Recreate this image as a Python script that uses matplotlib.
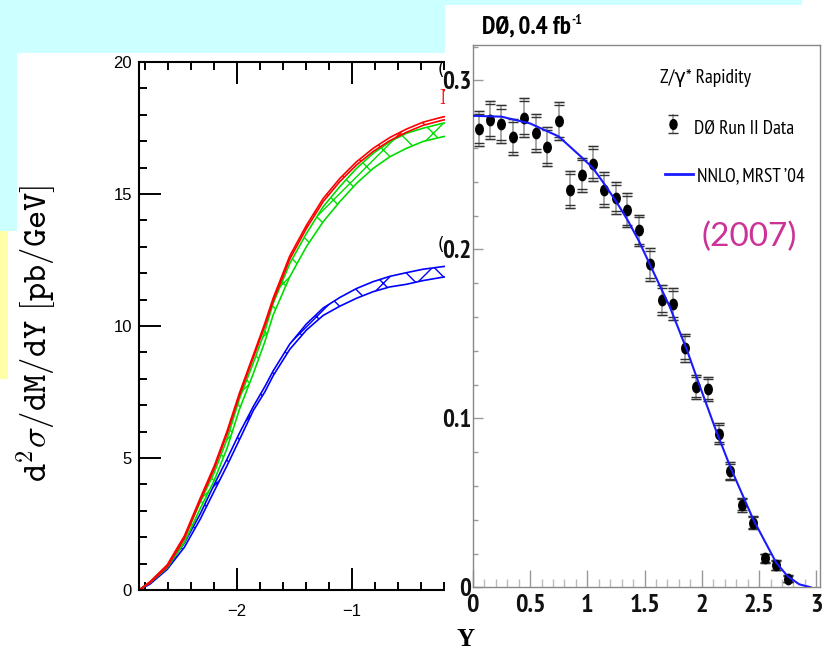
import numpy as np
import matplotlib
matplotlib.use('Agg')
import matplotlib.pyplot as plt
from matplotlib import font_manager
from matplotlib.patches import Rectangle
from matplotlib.path import Path
from matplotlib.markers import MarkerStyle
from matplotlib.transforms import Affine2D
from matplotlib.text import Annotation

# ---- left panel: d2sigma/dM/dY bands (Y < 0 half)
rap_left = [-2.855, -2.76, -2.61, -2.46, -2.32, -2.2, -2.09, -1.98, -1.86, -1.76, -1.687,
            -1.542, -1.397, -1.252, -1.107, -0.962, -0.817, -0.672, -0.527, -0.383, -0.21, 0.0]
red_lo = [0.0, 0.27, 0.87, 1.95, 3.4, 4.6, 5.9, 7.37, 8.8, 10.0, 10.94,
          12.54, 13.7, 14.71, 15.47, 16.1, 16.61, 17.02, 17.34, 17.6, 17.8, 17.92]
red_hi = [0.0, 0.31, 0.95, 2.05, 3.5, 4.7, 6.0, 7.47, 8.9, 10.1, 11.06,
          12.66, 13.82, 14.83, 15.59, 16.22, 16.73, 17.14, 17.46, 17.72, 17.92, 18.04]
green_lo = [0.0, 0.27, 0.84, 1.8, 3.1, 4.15, 5.35, 6.85, 8.2, 9.4, 10.42,
            11.87, 13.01, 13.95, 14.71, 15.4, 15.97, 16.41, 16.73, 16.99, 17.17, 17.3]
green_hi = [0.0, 0.3, 0.9, 1.95, 3.35, 4.45, 5.7, 7.25, 8.6, 9.8, 10.86,
            12.37, 13.51, 14.52, 15.28, 15.97, 16.54, 16.98, 17.3, 17.49, 17.68, 17.8]
blue_lo = [0.0, 0.22, 0.78, 1.62, 2.7, 3.75, 4.7, 5.7, 6.8, 7.5, 8.12,
           9.12, 9.85, 10.4, 10.75, 11.05, 11.3, 11.48, 11.58, 11.72, 11.85, 11.95]
blue_hi = [0.0, 0.27, 0.88, 1.78, 2.9, 4.0, 4.95, 5.95, 6.95, 7.7, 8.3,
           9.32, 10.08, 10.68, 11.08, 11.42, 11.68, 11.88, 12.02, 12.15, 12.25, 12.35]

# ---- right panel: D0 Z/gamma* rapidity
rap_bins = [0.05, 0.15, 0.25, 0.35, 0.45, 0.55, 0.65, 0.75, 0.85, 0.95, 1.05, 1.15, 1.25, 1.35,
            1.45, 1.55, 1.65, 1.75, 1.85, 1.95, 2.05, 2.15, 2.25, 2.35, 2.45, 2.55, 2.65, 2.75]
d0_vals = [0.2714, 0.2763, 0.2741, 0.2665, 0.2779, 0.2688, 0.2608, 0.2759, 0.2353, 0.2442,
           0.2507, 0.2353, 0.2304, 0.2231, 0.2112, 0.1911, 0.1700, 0.1676, 0.1418, 0.1187,
           0.1173, 0.0909, 0.0686, 0.0489, 0.0383, 0.0173, 0.0130, 0.0051]
err_tot = [0.0105, 0.0113, 0.0110, 0.0105, 0.0115, 0.0115, 0.0114, 0.0114, 0.0108, 0.0101,
           0.0103, 0.0103, 0.0094, 0.0101, 0.0094, 0.0096, 0.0088, 0.0095, 0.0083, 0.0071,
           0.0071, 0.0061, 0.0054, 0.0041, 0.0039, 0.0027, 0.0030, 0.0022]
err_stat = [0.0087, 0.0095, 0.0092, 0.0088, 0.0097, 0.0097, 0.0096, 0.0096, 0.0091, 0.0084,
            0.0086, 0.0086, 0.0078, 0.0085, 0.0078, 0.0080, 0.0073, 0.0079, 0.0068, 0.0058,
            0.0058, 0.0050, 0.0045, 0.0034, 0.0032, 0.0022, 0.0025, 0.0018]
nnlo_rap = [0.0, 0.25, 0.5, 0.75, 0.95, 1.05, 1.15, 1.25, 1.35, 1.45, 1.55, 1.72, 1.87,
            1.98, 2.12, 2.25, 2.45, 2.65, 2.75, 2.85, 2.95]
nnlo_val = [0.279, 0.2785, 0.2745, 0.2668, 0.2545, 0.248, 0.2385, 0.2285, 0.2175, 0.205,
            0.1905, 0.166, 0.1404, 0.1195, 0.0935, 0.071, 0.040, 0.0145, 0.0065, 0.0018, 0.0]

# pick a narrow sans that has a bold face (ROOT's Helvetica in the D0 plot is squeezed)
entries = font_manager.fontManager.ttflist

def wnum(w):
    return w if isinstance(w, int) else font_manager.weight_dict.get(w, 400)

bold_names = {f.name for f in entries if wnum(f.weight) >= 600 and f.style == 'normal'}
reg_names = {f.name for f in entries if wnum(f.weight) <= 500 and f.style == 'normal'}
narrow = ['Liberation Sans', 'DejaVu Sans']
for nm in ['Liberation Sans Narrow', 'Arial Narrow', 'PT Sans Narrow', 'Roboto Condensed',
           'Archivo Narrow', 'IBM Plex Sans Condensed', 'Asap Condensed', 'Barlow Semi Condensed',
           'Encode Sans Condensed', 'Sofia Sans Condensed']:
    if nm in bold_names and nm in reg_names:
        narrow = [nm, 'DejaVu Sans']
        break

W, H = 825, 650
fig = plt.figure(figsize=(W / 100, H / 100), dpi=100)
fig.patch.set_facecolor('white')

def box(x0, y0, x1, y1):
    # pixel box (top-left origin) -> figure fraction rect
    return (x0 / W, 1 - y1 / H, (x1 - x0) / W, (y1 - y0) / H)

# slide background bits
for (x0, y0, x1, y1), col in [((0, 0, 802, 5), '#ccffff'), ((0, 0, 445, 53), '#ccffff'),
                              ((0, 53, 17, 231), '#ccffff'), ((0, 231, 8, 379), '#ffffa8')]:
    l, b, w, h = box(x0, y0, x1, y1)
    fig.add_artist(Rectangle((l, b), w, h, transform=fig.transFigure,
                             facecolor=col, edgecolor='none', zorder=0.5))

# ---------------- left plot
axL = fig.add_axes(box(139, 62, 467, 590))
axL.set_zorder(0)
for lo, hi, col in [(blue_lo, blue_hi, '#0000ff'), (green_lo, green_hi, '#00dd00'),
                    (red_lo, red_hi, '#ff0000')]:
    axL.fill_between(rap_left, lo, hi, facecolor='none', edgecolor=col, hatch='x', linewidth=0)
    axL.plot(rap_left, lo, color=col, lw=1.2)
    axL.plot(rap_left, hi, color=col, lw=1.2)
axL.set_xlim(-2.855, 0.0)
axL.set_ylim(0, 20)
axL.set_xticks([-2, -1])
axL.set_yticks([0, 5, 10, 15, 20])
axL.set_xticks(np.arange(-2.8, 0.01, 0.2), minor=True)
axL.set_yticks(np.arange(0, 20.1, 1), minor=True)
axL.tick_params(which='both', direction='in', top=True, bottom=True, left=True, right=False,
                width=1.4, color='black', labelsize=12)
axL.tick_params(which='major', length=16)
axL.tick_params(which='minor', length=6)
axL.tick_params(axis='y', pad=5)
axL.tick_params(axis='x', pad=10)
for lab in axL.get_xticklabels() + axL.get_yticklabels():
    lab.set_family('Liberation Sans')
for s in axL.spines.values():
    s.set_linewidth(1.5)
axL.text(-0.24, 18.6, 'NNLO', color='#ff0000', fontsize=17, family='Liberation Serif',
         va='center', ha='left', clip_on=False)

fig.text(36 / W, 1 - 333 / H, r'$\mathtt{d}^{2}\sigma\mathtt{/dM/dY\ [pb/GeV]}$',
         rotation=90, ha='center', va='center', fontsize=25, math_fontfamily='cm')

# white sheet of the pasted D0 figure
l, b, w, h = box(445, 5, 825, 650)
fig.add_artist(Rectangle((l, b), w, h, transform=fig.transFigure,
                         facecolor='white', edgecolor='none', zorder=1))
for yy in (70, 245):
    fig.text(444 / W, 1 - yy / H, '(', fontsize=12, ha='right', va='center', zorder=3)

# ---------------- right plot
axR = fig.add_axes(box(472.8, 45, 820, 587.3))
axR.set_zorder(2)
axR.set_facecolor('none')

ell = MarkerStyle(Path.unit_circle().transformed(Affine2D().scale(0.72, 1.0)))
axR.errorbar(rap_bins, d0_vals, yerr=err_tot, fmt='none', ecolor='#999999', elinewidth=1.2,
             capsize=3.6, capthick=1.0, zorder=2)
axR.errorbar(rap_bins, d0_vals, yerr=err_tot, fmt='none', ecolor='#333333', elinewidth=0,
             capsize=3.6, capthick=1.0, zorder=2)
axR.errorbar(rap_bins, d0_vals, yerr=err_stat, fmt='none', ecolor='#333333', elinewidth=0,
             capsize=3.6, capthick=1.0, zorder=2)
axR.plot(rap_bins, d0_vals, linestyle='none', marker=ell, markersize=7.5, color='black', zorder=3)
axR.plot(nnlo_rap, nnlo_val, color='#1a1aff', lw=1.5, zorder=4)

axR.set_xlim(0, 3.032)
axR.set_ylim(0, 0.3209)
axR.set_xticks([0, 0.5, 1, 1.5, 2, 2.5, 3])
axR.set_xticklabels(['0', '0.5', '1', '1.5', '2', '2.5', '3'])
axR.set_xticks(np.arange(0, 3.01, 0.1), minor=True)
axR.set_yticks([0, 0.1, 0.2, 0.3])
axR.set_yticklabels(['0', '0.1', '0.2', '0.3'])
axR.set_yticks(np.arange(0, 0.321, 0.02), minor=True)
axR.tick_params(which='both', direction='in', top=False, right=False, color='#999999', width=1)
axR.tick_params(axis='x', which='major', length=12, pad=5)
axR.tick_params(axis='x', which='minor', length=6, color='#bbbbbb')
axR.tick_params(axis='y', which='major', length=7, pad=1)
axR.tick_params(axis='y', which='minor', length=3.6)
for lab in axR.get_xticklabels() + axR.get_yticklabels():
    lab.set_family(narrow)
    lab.set_weight('bold')
    lab.set_color('#111111')
for lab in axR.get_xticklabels():
    lab.set_fontsize(19)
for lab in axR.get_yticklabels():
    lab.set_fontsize(18)
for s in axR.spines.values():
    s.set_color('#888888')
    s.set_linewidth(1.0)

# legend (manual, in axes fraction)
tA = axR.transAxes
nkw = dict(family=narrow, fontsize=14, va='baseline', ha='left', transform=tA)
axR.text(0.54, 0.93, 'Z/γ* Rapidity', **nkw)
axR.plot([0.577, 0.577], [0.838, 0.871], transform=tA, color='#999999', lw=1.2)
axR.plot([0.577, 0.577], [0.838, 0.871], transform=tA, linestyle='none', marker='_',
         markersize=7, color='#333333')
axR.plot([0.577], [0.854], transform=tA, linestyle='none', marker=ell, markersize=7,
         color='black')
axR.text(0.637, 0.836, 'DØ Run II Data', **nkw)
axR.plot([0.554, 0.634], [0.762, 0.762], transform=tA, color='#1a1aff', lw=2)
axR.text(0.645, 0.748, 'NNLO, MRST ’04', **nkw)

fig.text(749 / W, 1 - 237 / H, '(2007)', color='#cc3399', family='Lato', fontsize=24,
         ha='center', va='center', zorder=3)

title = fig.text(482 / W, 1 - 33 / H, 'DØ, 0.4 fb', family=narrow, weight='bold',
                 fontsize=18, ha='left', va='baseline', zorder=3)
fig.add_artist(Annotation('-1', xy=(1.0, 1.05), xycoords=title, family=narrow,
                          weight='bold', fontsize=10, ha='left', va='top'))

fig.text(466 / W, 1 - 639 / H, 'Y', family='Liberation Serif', weight='bold', fontsize=18,
         ha='center', va='center', zorder=3)

fig.savefig('out.png', dpi=100)
